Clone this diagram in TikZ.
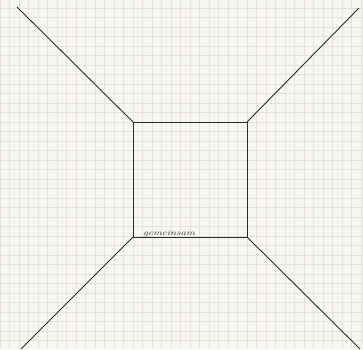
\documentclass[tikz,border=0pt]{standalone}
\usetikzlibrary{calc}
\definecolor{paper}{HTML}{F8F6F1}
\definecolor{gridc}{HTML}{E6E2DC}
\definecolor{ink}{HTML}{2B2B2B}
\tikzset{
  edge/.style={draw=ink, line width=0.9pt},
  gridline/.style={draw=gridc, line width=0.35pt},
  hand/.style={font=\fontsize{11}{12}\selectfont\itshape, text=ink, inner sep=0pt, anchor=base west, yscale=0.7}
}
\begin{document}
\begin{tikzpicture}[x=1pt,y=-1pt]
  \fill[paper] (0,0) rectangle (363,349);
  \useasboundingbox (0,0) rectangle (363,349);
  \foreach \i in {-14,...,24} {
    \draw[gridline] ({133+9.5*\i},0) -- ({133+9.5*\i},349);
  }
  \foreach \j in {-13,...,24} {
    \draw[gridline] (0,{122+9.5*\j}) -- (363,{122+9.5*\j});
  }
  \coordinate (A) at (133,122);
  \coordinate (B) at (247,122);
  \coordinate (C) at (247,237);
  \coordinate (D) at (133,237);
  \coordinate (TL) at (17,7);
  \coordinate (TR) at (359,8);
  \coordinate (BL) at (21,349);
  \coordinate (BR) at (360,349);
  \draw[edge] (A) -- (B) -- (C) -- (D) -- cycle;
  \draw[edge] (TL) -- (A);
  \draw[edge] (TR) -- (B);
  \draw[edge] (BL) -- (D);
  \draw[edge] (BR) -- (C);
  \node[hand] (g) at (143,235) {gemeinsam};
\end{tikzpicture}
\end{document}
